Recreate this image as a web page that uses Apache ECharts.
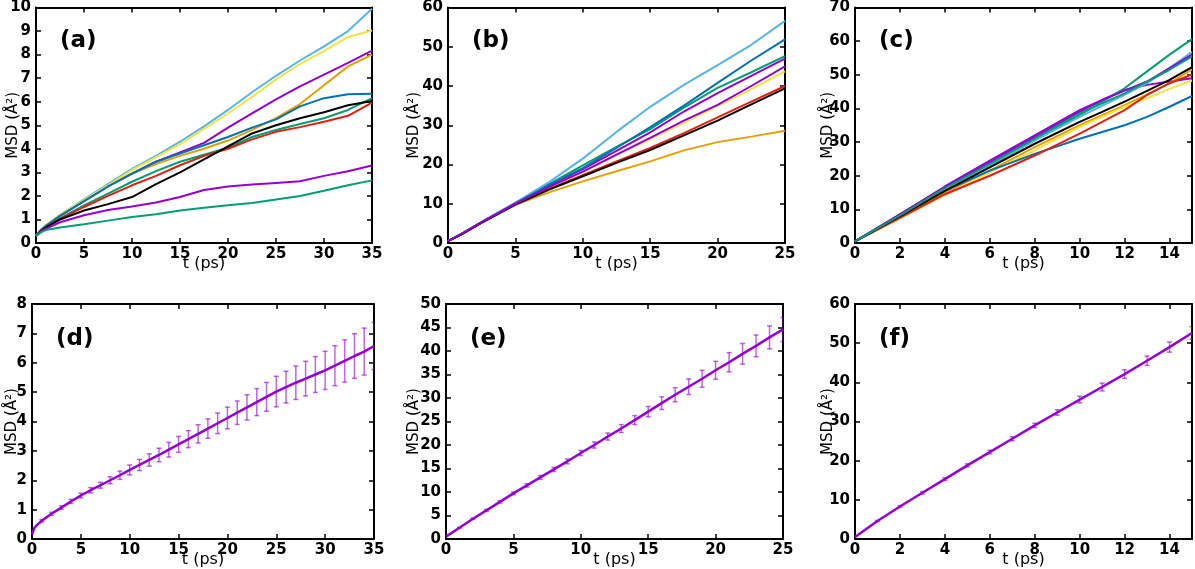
<!DOCTYPE html>
<html>
<head>
<meta charset="utf-8">
<script src="https://cdn.jsdelivr.net/npm/echarts@6/dist/echarts.min.js"></script>
<style>
html,body{margin:0;padding:0;background:#fff;}
#chart{width:1195px;height:569px;}
</style>
</head>
<body>
<div id="chart"></div>
<script>
// ---------- DATA ----------
// colour order (gnuplot default line types)
const lineColors = ['#9400D3', '#009E73', '#56B4E9', '#E69F00', '#F0E442', '#0072B2', '#E51E10', '#000000'];
const panelLabels = ['(a)', '(b)', '(c)', '(d)', '(e)', '(f)'];
const xAxisName = 't (ps)';
const yAxisName = 'MSD (Å²)';

// Panel (a)
const tA = [0, 0.5, 1, 2.5, 5, 7.5, 10, 12.5, 15, 17.5, 20, 22.5, 25, 27.5, 30, 32.5, 35];
const a1 = [0.3, 0.55, 0.72, 1.15, 1.78, 2.4, 2.95, 3.45, 3.85, 4.25, 4.9, 5.5, 6.1, 6.65, 7.15, 7.65, 8.17];
const a2 = [0.3, 0.52, 0.68, 1.05, 1.6, 2.1, 2.6, 3.05, 3.45, 3.75, 4.05, 4.5, 4.8, 5.05, 5.3, 5.65, 6.15];
const a3 = [0.3, 0.55, 0.75, 1.2, 1.85, 2.5, 3.15, 3.7, 4.3, 4.95, 5.65, 6.4, 7.1, 7.75, 8.35, 9.0, 9.95];
const a4 = [0.3, 0.55, 0.72, 1.15, 1.78, 2.4, 2.95, 3.35, 3.7, 4.0, 4.35, 4.8, 5.3, 5.9, 6.7, 7.5, 8.0];
const a5 = [0.3, 0.55, 0.75, 1.2, 1.82, 2.45, 3.1, 3.65, 4.2, 4.85, 5.5, 6.2, 6.95, 7.6, 8.15, 8.75, 9.02];
const a6 = [0.3, 0.55, 0.72, 1.15, 1.78, 2.4, 2.95, 3.45, 3.8, 4.15, 4.5, 4.9, 5.25, 5.8, 6.15, 6.32, 6.34];
const a7 = [0.3, 0.52, 0.66, 1.02, 1.53, 2.0, 2.45, 2.85, 3.3, 3.7, 4.0, 4.4, 4.72, 4.92, 5.15, 5.4, 5.96];
const a8 = [0.3, 0.5, 0.65, 1.0, 1.38, 1.65, 1.95, 2.5, 3.0, 3.55, 4.1, 4.65, 5.0, 5.3, 5.55, 5.85, 6.03];
const a9 = [0.3, 0.48, 0.6, 0.88, 1.18, 1.4, 1.55, 1.72, 1.95, 2.25, 2.4, 2.48, 2.55, 2.62, 2.85, 3.05, 3.29];
const a10 = [0.3, 0.45, 0.55, 0.66, 0.8, 0.95, 1.1, 1.22, 1.38, 1.5, 1.6, 1.7, 1.85, 2.0, 2.22, 2.45, 2.66];

// Panel (b)
const tB = [0, 1, 2.5, 5, 7.5, 10, 12.5, 15, 17.5, 20, 22.5, 25];
const b1 = [0.5, 2.3, 5.3, 10.1, 14.6, 18.8, 23.5, 28.2, 33.5, 38.2, 42.6, 47.0];
const b2 = [0.5, 2.3, 5.3, 10.2, 15.0, 19.8, 24.5, 29.0, 34.5, 39.5, 43.5, 47.6];
const b3 = [0.5, 2.3, 5.4, 10.3, 15.5, 21.5, 28.3, 34.7, 40.3, 45.3, 50.5, 56.6];
const b4 = [0.5, 2.2, 5.2, 9.7, 12.9, 15.7, 18.3, 20.8, 23.6, 25.7, 27.1, 28.6];
const b5 = [0.5, 2.3, 5.3, 10.0, 14.1, 18.0, 22.3, 26.5, 30.6, 34.9, 39.2, 43.7];
const b6 = [0.5, 2.3, 5.3, 10.1, 14.8, 19.1, 24.2, 29.5, 35.0, 40.8, 46.5, 51.9];
const b7 = [0.5, 2.2, 5.2, 9.9, 13.8, 17.3, 20.8, 24.2, 28.0, 32.0, 36.0, 40.0];
const b8 = [0.5, 2.2, 5.2, 9.8, 13.6, 17.0, 20.4, 23.7, 27.4, 31.2, 35.3, 39.4];
const b9 = [0.5, 2.3, 5.3, 10.0, 14.3, 18.2, 22.5, 26.8, 31.2, 35.2, 40.0, 45.0];

// Panel (c)
const tC = [0, 2, 4, 6, 8, 10, 11, 12, 13, 14, 15];
const c1 = [0.5, 8.5, 16.5, 24.0, 31.5, 39.0, 42.5, 45.5, 47.0, 48.0, 49.0];
const c2 = [0.5, 8.0, 16.0, 23.0, 30.5, 38.0, 42.0, 46.0, 51.0, 56.0, 60.6];
const c3 = [0.5, 8.3, 16.0, 23.2, 30.5, 37.5, 40.8, 44.0, 47.5, 52.0, 56.8];
const c4 = [0.5, 7.8, 15.0, 21.5, 28.5, 35.0, 38.0, 41.0, 44.2, 47.5, 51.6];
const c5 = [0.5, 7.3, 14.2, 21.0, 27.5, 34.5, 37.5, 40.5, 43.0, 45.8, 48.3];
const c6 = [0.5, 8.0, 15.5, 21.5, 26.5, 31.0, 33.0, 35.0, 37.5, 40.5, 43.7];
const c7 = [0.5, 7.5, 14.5, 20.0, 26.0, 32.5, 36.0, 39.5, 44.0, 47.5, 50.1];
const c8 = [0.5, 8.0, 15.5, 22.5, 29.5, 36.0, 39.0, 42.0, 45.2, 48.5, 52.3];
const c9 = [0.5, 8.5, 16.8, 24.5, 32.0, 39.5, 42.5, 45.3, 48.0, 52.0, 56.0];
const c10 = [0.5, 8.2, 16.3, 23.5, 31.0, 38.5, 41.5, 44.5, 48.0, 51.5, 55.5];

// Panel (d): mean and error half-width
const tD = [0, 0.25, 0.5, 1, 2, 3, 4, 5, 6, 7, 8, 9, 10, 11, 12, 13, 14, 15, 16, 17, 18, 19, 20, 21, 22, 23, 24, 25, 26, 27, 28, 29, 30, 31, 32, 33, 34, 35];
const dMean = [0.15, 0.38, 0.47, 0.62, 0.86, 1.07, 1.28, 1.48, 1.66, 1.83, 2.0, 2.17, 2.35, 2.52, 2.69, 2.86, 3.04, 3.22, 3.4, 3.58, 3.76, 3.94, 4.12, 4.3, 4.48, 4.66, 4.84, 5.02, 5.17, 5.32, 5.46, 5.6, 5.74, 5.9, 6.06, 6.23, 6.38, 6.57];
const dErr = [0, 0, 0, 0.04, 0.05, 0.06, 0.07, 0.08, 0.09, 0.1, 0.12, 0.14, 0.17, 0.19, 0.21, 0.23, 0.25, 0.27, 0.29, 0.31, 0.33, 0.35, 0.37, 0.4, 0.43, 0.46, 0.49, 0.52, 0.54, 0.57, 0.59, 0.61, 0.65, 0.68, 0.72, 0.76, 0.8, 0.8];

// Panel (e)
const tE = [0, 1, 2, 3, 4, 5, 6, 7, 8, 9, 10, 11, 12, 13, 14, 15, 16, 17, 18, 19, 20, 21, 22, 23, 24, 25];
const eMean = [0.5, 2.4, 4.3, 6.1, 7.9, 9.7, 11.4, 13.1, 14.8, 16.5, 18.3, 20.0, 21.8, 23.5, 25.3, 27.1, 28.9, 30.7, 32.4, 34.1, 35.9, 37.6, 39.4, 41.1, 42.9, 44.6];
const eErr = [0, 0.1, 0.15, 0.2, 0.25, 0.3, 0.35, 0.4, 0.45, 0.5, 0.55, 0.65, 0.75, 0.85, 0.95, 1.1, 1.35, 1.5, 1.65, 1.8, 1.9, 2.05, 2.2, 2.3, 2.45, 2.55];

// Panel (f)
const tF = [0, 1, 2, 3, 4, 5, 6, 7, 8, 9, 10, 11, 12, 13, 14, 15];
const fMean = [0.5, 4.6, 8.3, 11.8, 15.3, 18.8, 22.2, 25.6, 29.0, 32.3, 35.6, 38.8, 42.1, 45.5, 49.0, 52.6];
const fErr = [0, 0.15, 0.25, 0.3, 0.35, 0.4, 0.45, 0.5, 0.55, 0.7, 0.85, 1.0, 1.1, 1.2, 1.3, 1.6];

// Axis ranges: [xMax, xInterval, yMax, yInterval]
const axisRanges = [[35, 5, 10, 1], [25, 5, 60, 10], [15, 2, 70, 10], [35, 5, 8, 1], [25, 5, 50, 5], [15, 2, 60, 10]];

// ---------- LAYOUT ----------
const grids = [
  {left: 36, top: 6, width: 336, height: 237},
  {left: 448, top: 6, width: 337, height: 237},
  {left: 855, top: 6, width: 337, height: 237},
  {left: 32, top: 304, width: 342, height: 238},
  {left: 446, top: 304, width: 337, height: 238},
  {left: 855, top: 304, width: 337, height: 238}
];
const yNameGaps = [15, 26, 19, 12, 24, 19];

const FONT = 'DejaVu Sans';
const axLine = {show: true, onZero: false, lineStyle: {color: '#000', width: 2}};
const axTick = {show: true, inside: true, length: 5, lineStyle: {color: '#000', width: 1.5}};

const xAxis = [], yAxis = [], series = [], graphic = [];

grids.forEach((g, gi) => {
  const [xm, xi, ym, yi] = axisRanges[gi];
  const showMax = (xm % xi) === 0;
  xAxis.push({
    type: 'value', gridIndex: gi, min: 0, max: xm, interval: xi, position: 'bottom',
    axisLine: axLine, axisTick: axTick, splitLine: {show: false},
    axisLabel: {color: '#000', fontFamily: FONT, fontSize: 15, fontWeight: 'bold', margin: 4, showMaxLabel: showMax},
    name: xAxisName, nameLocation: 'middle', nameGap: 13, nameMoveOverlap: false,
    nameTextStyle: {color: '#000', fontFamily: FONT, fontSize: 16}
  });
  xAxis.push({
    type: 'value', gridIndex: gi, min: 0, max: xm, interval: xi, position: 'top',
    axisLine: axLine, axisTick: axTick, splitLine: {show: false}, axisLabel: {show: false}
  });
  yAxis.push({
    type: 'value', gridIndex: gi, min: 0, max: ym, interval: yi, position: 'left',
    axisLine: axLine, axisTick: axTick, splitLine: {show: false},
    axisLabel: {color: '#000', fontFamily: FONT, fontSize: 15, fontWeight: 'bold', margin: 5},
    name: yAxisName, nameLocation: 'middle', nameGap: yNameGaps[gi], nameMoveOverlap: false,
    nameRotate: 90,
    nameTextStyle: {color: '#000', fontFamily: FONT, fontSize: 15}
  });
  yAxis.push({
    type: 'value', gridIndex: gi, min: 0, max: ym, interval: yi, position: 'right',
    axisLine: axLine, axisTick: axTick, splitLine: {show: false}, axisLabel: {show: false}
  });
  graphic.push({
    type: 'text', left: g.left + 24, top: g.top + 24, z: 100,
    style: {text: panelLabels[gi], fill: '#000', font: 'bold 23px "DejaVu Sans"'}
  });
});

function addLines(gi, t, arrs, width) {
  arrs.forEach((vals, k) => {
    series.push({
      type: 'line', xAxisIndex: gi * 2, yAxisIndex: gi * 2, showSymbol: false, symbol: 'none',
      smooth: false, clip: true, animation: false,
      lineStyle: {color: lineColors[k % lineColors.length], width: width},
      data: t.map((x, i) => [x, vals[i]])
    });
  });
}
addLines(0, tA, [a1, a2, a3, a4, a5, a6, a7, a8, a9, a10], 2);
addLines(1, tB, [b1, b2, b3, b4, b5, b6, b7, b8, b9], 2);
addLines(2, tC, [c1, c2, c3, c4, c5, c6, c7, c8, c9, c10], 2);

function addErr(gi, t, mean, err) {
  const data = [];
  t.forEach((x, i) => { if (err[i] > 0) data.push([x, mean[i] - err[i], mean[i] + err[i]]); });
  series.push({
    type: 'custom', xAxisIndex: gi * 2, yAxisIndex: gi * 2, animation: false, clip: true,
    encode: {x: 0, y: [1, 2]},
    data: data,
    renderItem: function (params, api) {
      const x = api.value(0);
      const lo = api.coord([x, api.value(1)]);
      const hi = api.coord([x, api.value(2)]);
      const w = 2.5;
      const st = {stroke: 'rgba(148,0,211,0.6)', lineWidth: 1.5};
      return {type: 'group', children: [
        {type: 'line', shape: {x1: lo[0], y1: lo[1], x2: hi[0], y2: hi[1]}, style: st},
        {type: 'line', shape: {x1: lo[0] - w, y1: lo[1], x2: lo[0] + w, y2: lo[1]}, style: st},
        {type: 'line', shape: {x1: hi[0] - w, y1: hi[1], x2: hi[0] + w, y2: hi[1]}, style: st}
      ]};
    }
  });
  series.push({
    type: 'line', xAxisIndex: gi * 2, yAxisIndex: gi * 2, showSymbol: false, symbol: 'none',
    smooth: false, animation: false,
    lineStyle: {color: '#9400D3', width: 2.5},
    data: t.map((x, i) => [x, mean[i]])
  });
}
addErr(3, tD, dMean, dErr);
addErr(4, tE, eMean, eErr);
addErr(5, tF, fMean, fErr);

const chart = echarts.init(document.getElementById('chart'), null, {renderer: 'canvas'});
chart.setOption({
  animation: false,
  backgroundColor: '#fff',
  grid: grids.map(g => Object.assign({containLabel: false}, g)),
  xAxis: xAxis,
  yAxis: yAxis,
  series: series,
  graphic: graphic
});
</script>
</body>
</html>
